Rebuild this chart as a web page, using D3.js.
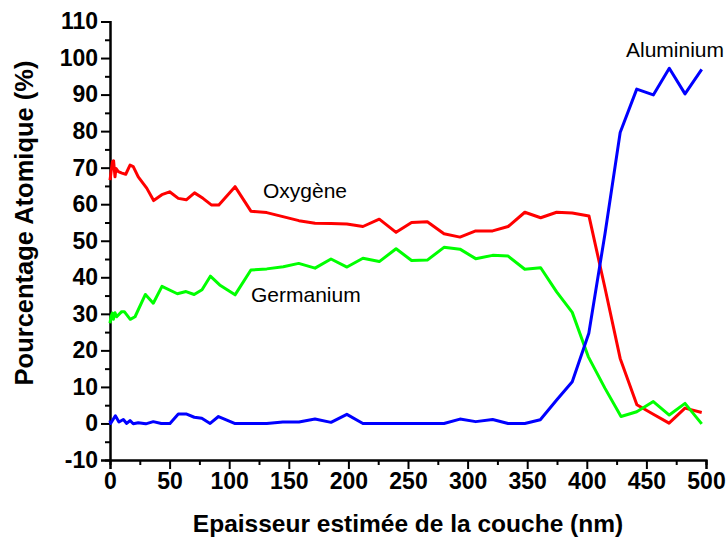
<!DOCTYPE html>
<html><head><meta charset="utf-8">
<script src="https://cdn.jsdelivr.net/npm/d3@7"></script>
<style>
body{margin:0;background:#fff;}
text{font-family:"Liberation Sans",Arial,sans-serif;}
</style></head>
<body><svg id="c" width="728" height="545"></svg>
<script>
const xTicks = [0,50,100,150,200,250,300,350,400,450,500];
const yTicks = [-10,0,10,20,30,40,50,60,70,80,90,100,110];
const xMinor = [25,75,125,175,225,275,325,375,425,475];
const yMinor = [-5,5,15,25,35,45,55,65,75,85,95,105];

const xO = [0,2,3,4.2,5,7,10,13.2,16.8,19.5,23.7,30.8,36.6,43.5,50,57.3,64,70.9,78,85,91.3,104.9,118.2,131.5,145,158.5,172,185.4,198.7,212.2,225.9,240,253,266.2,280.2,293.6,306.8,321,334,348,361.3,374.7,387.8,401.8,415.3,428,442,455.8,469,482.4,496.4];
const yO = [66.6,71.6,71.9,67.5,69.8,68.9,68.5,68.2,70.7,70.3,67.5,64.4,61,62.6,63.4,61.6,61.2,63.1,61.6,59.8,59.8,64.8,58.1,57.7,56.6,55.5,54.8,54.7,54.6,53.9,55.9,52.3,55,55.2,51.9,51.0,52.7,52.7,53.9,57.8,56.3,57.8,57.6,56.8,37,17.8,5.1,2.5,0.1,4.2,3.0];

const xG = [0,0.8,2,2.8,4.2,5.6,9.8,12,17,21,29.7,36.3,43.6,56.5,63.8,70.6,77.2,84.2,92,104.9,118.2,131.5,145.4,158.3,172,185.4,198.8,212.2,225.9,240,253,266.2,280.2,293.6,306.8,321,334,348,361.3,374.7,387.8,401.2,415.3,428.7,441.9,455.8,469.2,482.4,496.4];
const yG = [27.4,29.2,30.2,28.5,30.3,29.2,30.6,30.6,28.5,29.2,35.3,32.9,37.5,35.5,36.1,35.3,36.6,40.3,37.9,35.2,42.0,42.3,42.9,43.8,42.5,45.0,42.8,45.2,44.3,47.8,44.6,44.7,48.2,47.7,45.1,46.0,45.8,42.2,42.6,36.0,30.4,18.3,9.6,1.9,3.2,6.0,2.3,5.5,-0.1];

const xA = [0,0.5,4.5,7.5,11.2,14,16.8,19.5,23.7,30,36.3,43,50.3,57.3,63.8,70.7,77,84,91,104.5,118.2,131.5,145,158.5,172,185.4,198.7,212.2,225.9,240,253,266.2,280.2,293.6,306.8,321,334,348,361,374.7,387.8,401.7,415.3,428,441.9,455.8,469.2,482.4,496.4];
const yA = [0.8,0,2.1,0.4,1.1,0,0.8,-0.1,0.2,-0.1,0.5,0,0,2.6,2.6,1.7,1.4,0,1.9,0,0,0,0.4,0.4,1.2,0.3,2.5,0,0,0,0,0,0,1.2,0.5,1.1,0,0,1.0,6.4,11.4,24.7,52,79.6,91.5,89.9,97.2,90.2,96.9];

const seriesNames = ["Oxygène","Germanium","Aluminium"];
const seriesColors = ["#ff0000","#00ff00","#0000ff"];

const svg = d3.select("#c");
const x = d3.scaleLinear().domain([0,500]).range([110,706]);
const y = d3.scaleLinear().domain([-10,110]).range([460,21.5]);

function styleAxis(g){
  g.select(".domain").attr("stroke","#000").attr("stroke-width",2);
  g.selectAll(".tick line").attr("stroke","#000").attr("stroke-width",2);
  g.selectAll("text").attr("font-size",23).attr("font-weight","bold").attr("fill","#000")
    .style("font-family",'"Liberation Sans",Arial,sans-serif');
}
const fmt = d => String(d);

// minor ticks
svg.append("g").attr("transform","translate(0,460)")
  .call(d3.axisBottom(x).tickValues(xMinor).tickSize(5).tickFormat(""))
  .call(styleAxis);
svg.append("g").attr("transform","translate(110,0)")
  .call(d3.axisLeft(y).tickValues(yMinor).tickSize(5).tickFormat(""))
  .call(styleAxis);
// major ticks
svg.append("g").attr("transform","translate(0,460)")
  .call(d3.axisBottom(x).tickValues(xTicks).tickSize(9).tickPadding(4).tickFormat(fmt))
  .call(styleAxis);
svg.append("g").attr("transform","translate(110,0)")
  .call(d3.axisLeft(y).tickValues(yTicks).tickSize(9).tickPadding(3).tickFormat(fmt))
  .call(styleAxis);

const line = d3.line().x(d=>x(d[0])).y(d=>y(d[1]));
const sets = [[xO,yO],[xG,yG],[xA,yA]];
sets.forEach((s,i)=>{
  const pts = s[0].map((v,j)=>[v,s[1][j]]);
  svg.append("path").datum(pts).attr("d",line)
    .attr("fill","none").attr("stroke",seriesColors[i]).attr("stroke-width",3)
    .attr("stroke-linejoin","round");
});

// series labels
const labelPos = [[263,198],[251,302],[626,57]];
seriesNames.forEach((n,i)=>{
  svg.append("text").attr("x",labelPos[i][0]).attr("y",labelPos[i][1])
    .attr("font-size",21).attr("fill","#000").text(n);
});

// axis titles
svg.append("text").attr("x",408).attr("y",532).attr("text-anchor","middle")
  .attr("font-size",24.5).attr("font-weight","bold").text("Epaisseur estimée de la couche (nm)");
svg.append("text").attr("transform","translate(33,223) rotate(-90)").attr("text-anchor","middle")
  .attr("font-size",25.5).attr("font-weight","bold").text("Pourcentage Atomique (%)");
</script></body></html>
